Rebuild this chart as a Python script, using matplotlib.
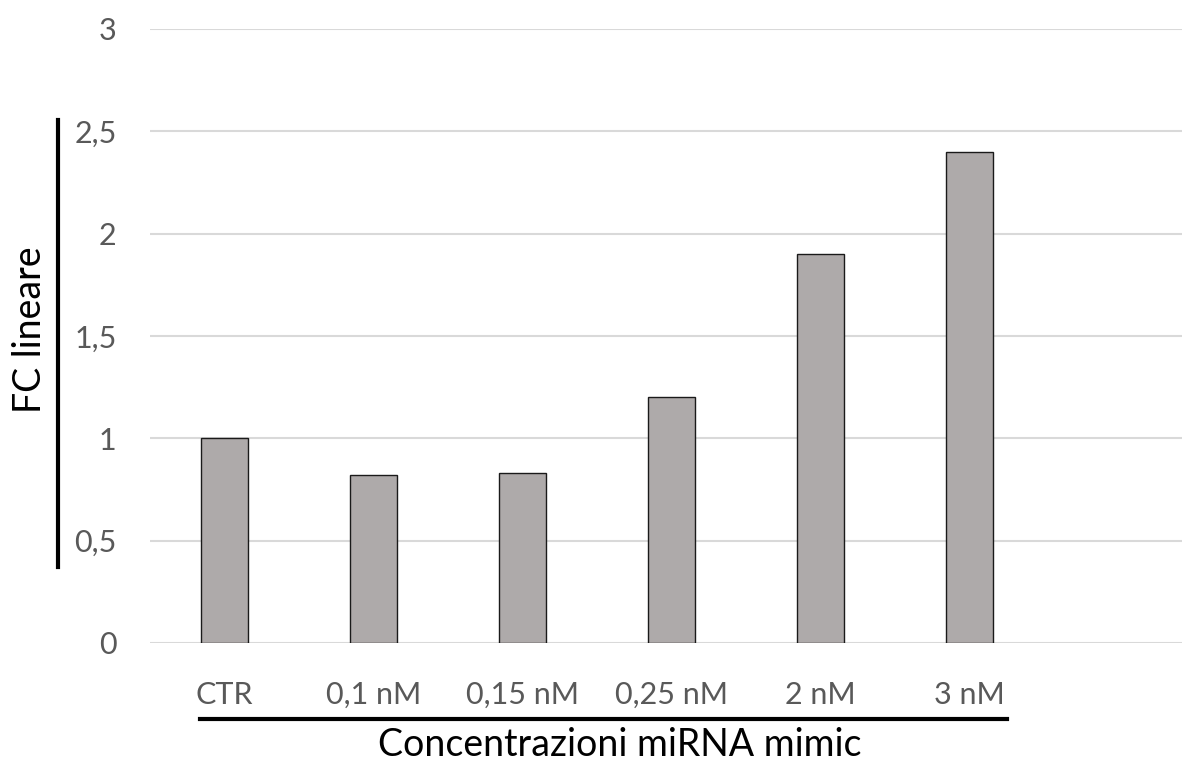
import matplotlib.pyplot as plt
from matplotlib.lines import Line2D
from matplotlib.ticker import FuncFormatter

categories = ["CTR", "0,1 nM", "0,15 nM", "0,25 nM", "2 nM", "3 nM"]
fc_values = [1.0, 0.82, 0.83, 1.2, 1.9, 2.4]
y_ticks = [0, 0.5, 1, 1.5, 2, 2.5, 3]

W, H = 1182, 767
plt.rcParams['font.family'] = ['Lato', 'DejaVu Sans']

fig = plt.figure(figsize=(W / 100, H / 100), dpi=100)
# axes placed in pixel terms of the reference
ax = fig.add_axes([150 / W, 1 - 643 / H, 1 - 150 / W, (643 - 29) / H])

x = list(range(len(categories)))
ax.bar(x, fc_values, width=0.315, color="#AEAAAA", edgecolor="#1a1a1a",
       linewidth=1.0, zorder=3)

ax.set_ylim(0, 3)
ax.set_xlim(-0.5, 6.43)
ax.set_yticks(y_ticks)
ax.yaxis.set_major_formatter(FuncFormatter(lambda v, p: ("%g" % v).replace(".", ",")))
ax.set_xticks(x)
ax.set_xticklabels(categories)
ax.grid(axis="y", color="#D9D9D9", linewidth=1.5, zorder=0)
ax.set_axisbelow(True)
for s in ax.spines.values():
    s.set_visible(False)
ax.tick_params(axis="both", length=0, labelsize=22, labelcolor="#595959")
ax.tick_params(axis="y", pad=24)
ax.tick_params(axis="x", pad=27)

# axis titles with their bars
fig.text(30 / W, 1 - 330 / H, "FC lineare", rotation=90, ha="center", va="center",
         fontsize=27, color="black")
fig.add_artist(Line2D([58 / W, 58 / W], [1 - 120 / H, 1 - 567 / H], color="black",
                      linewidth=3, transform=fig.transFigure))
fig.text(620 / W, 1 - 745 / H, "Concentrazioni miRNA mimic", ha="center", va="center",
         fontsize=27, color="black")
fig.add_artist(Line2D([200 / W, 1007 / W], [1 - 719 / H, 1 - 719 / H], color="black",
                      linewidth=3, transform=fig.transFigure))

fig.savefig("out.png", dpi=100)
